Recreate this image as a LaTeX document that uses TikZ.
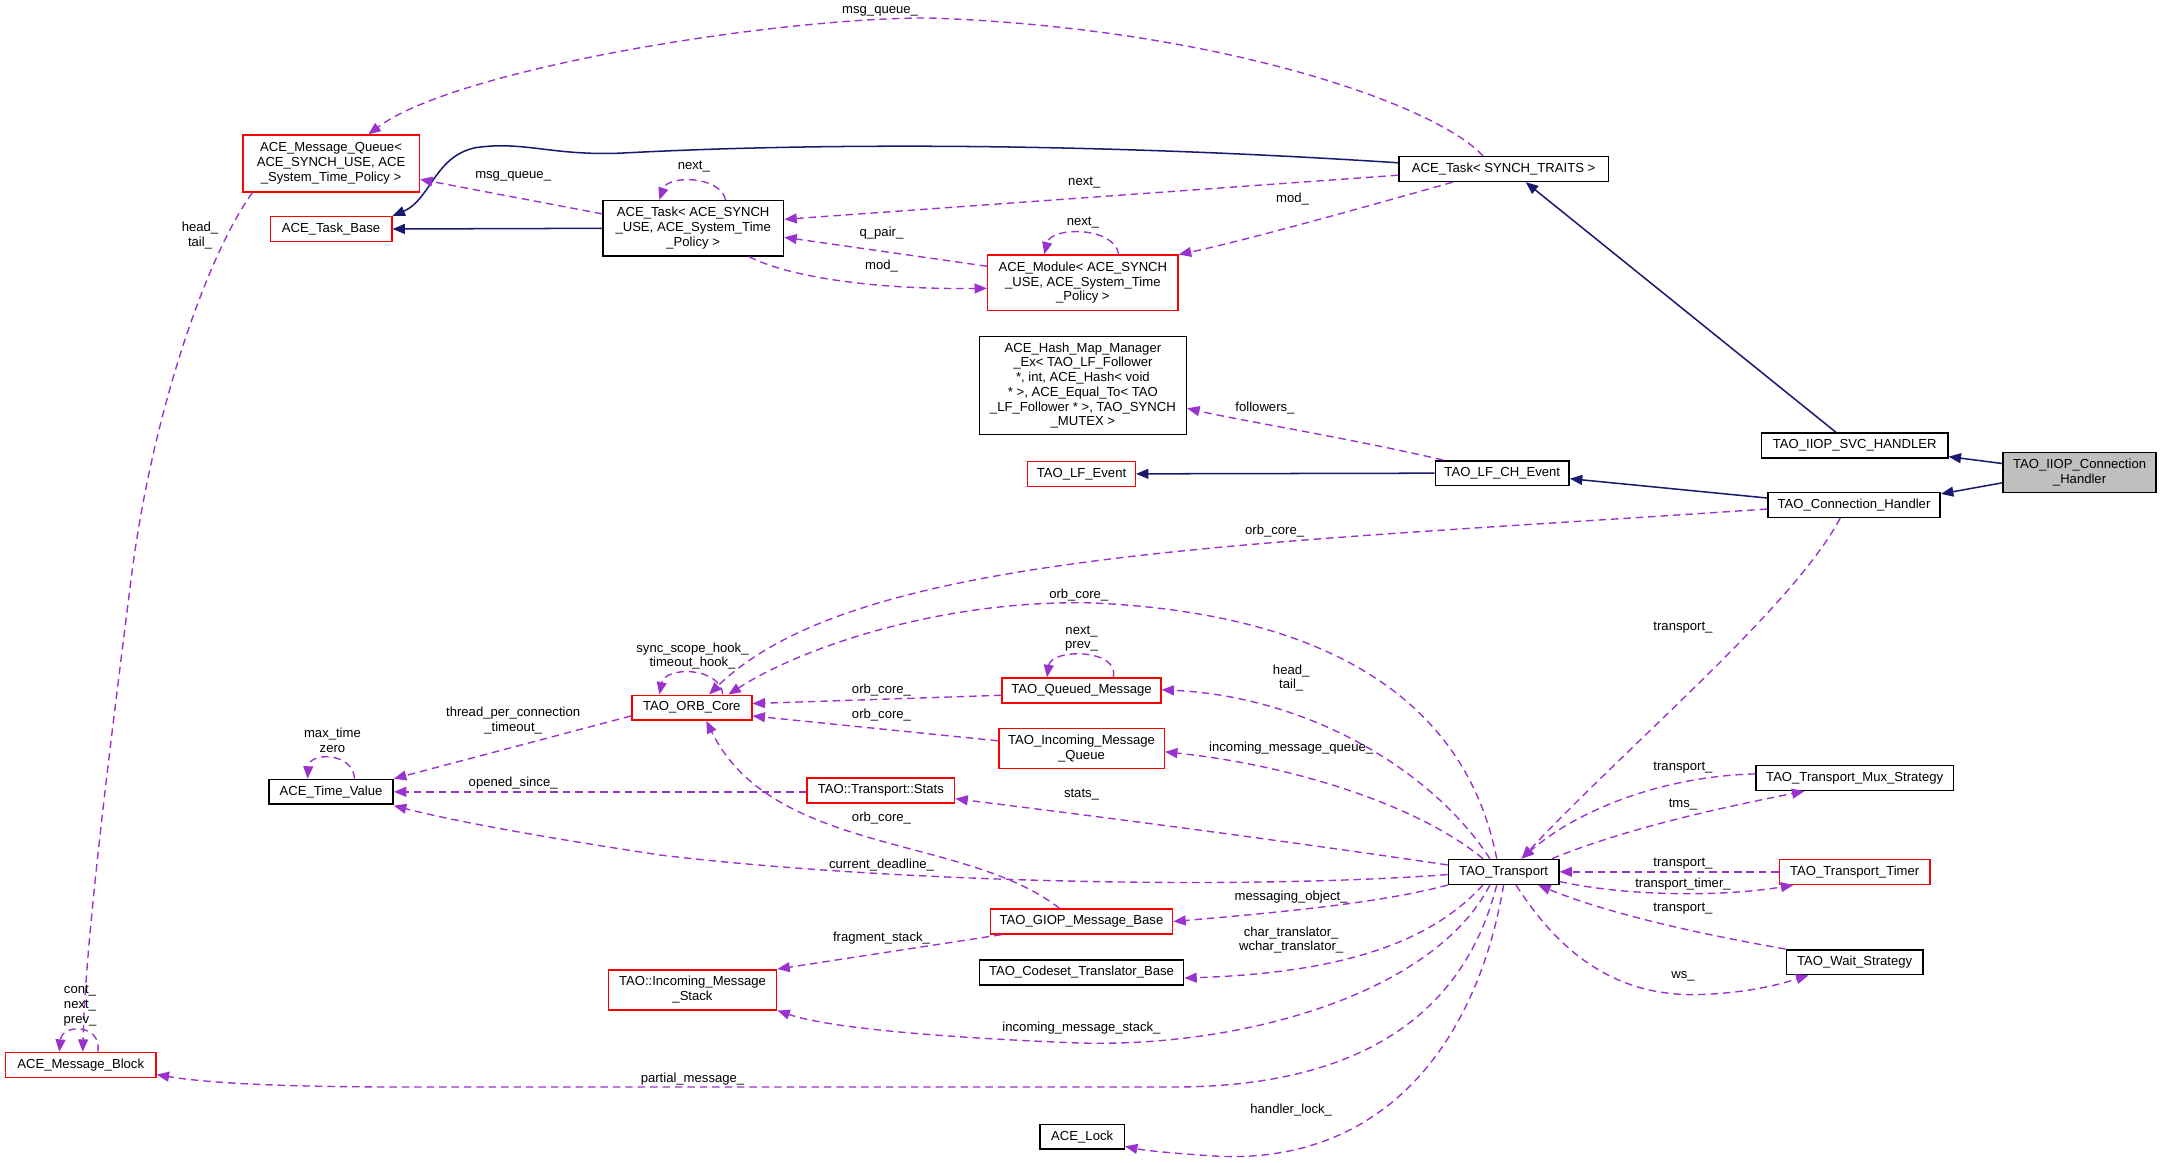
\documentclass[tikz,border=0pt]{standalone}
\usepackage{fontspec}
\setmainfont{Liberation Sans}
\usetikzlibrary{arrows.meta,calc}
\definecolor{depc}{HTML}{9A32CD}
\definecolor{inhc}{HTML}{191970}
\definecolor{grayfill}{HTML}{BFBFBF}
\begin{document}
\begin{tikzpicture}[x=0.5pt,y=-0.5pt,
  txt/.style={font=\fontsize{4.75}{5.35}\selectfont, inner sep=0pt, align=center},
  cls/.style={txt, draw=black, line width=0.55pt, fill=white, minimum height=9pt},
  redcls/.style={cls, draw=red},
  lbl/.style={txt},
  depe/.style={draw=depc, line width=0.5pt, dash pattern=on 2.7pt off 1.8pt, -{Triangle[length=4.5pt,width=3.6pt]}},
  inhe/.style={draw=inhc, line width=0.55pt, -{Triangle[length=4.5pt,width=3.6pt]}}]
\useasboundingbox (0,0) rectangle (1568,843);
% ---- nodes
\node[redcls, minimum width=64pt, minimum height=20.5pt] (mq) at (240,118.5) {ACE\_Message\_Queue<\\ ACE\_SYNCH\_USE, ACE\\\_System\_Time\_Policy >};
\node[redcls, minimum width=44pt] (tb) at (240,166) {ACE\_Task\_Base};
\node[cls, minimum width=65.5pt, minimum height=20pt] (tas) at (502.5,165.5) {ACE\_Task< ACE\_SYNCH\\\_USE, ACE\_System\_Time\\\_Policy >};
\node[cls, minimum width=76pt] (tst) at (1090,122.5) {ACE\_Task< SYNCH\_TRAITS >};
\node[redcls, minimum width=69pt, minimum height=20pt] (mod) at (785,205) {ACE\_Module< ACE\_SYNCH\\\_USE, ACE\_System\_Time\\\_Policy >};
\node[cls, minimum width=75pt, minimum height=35.5pt] (hm) at (785,279.5) {ACE\_Hash\_Map\_Manager\\\_Ex< TAO\_LF\_Follower\\ *, int, ACE\_Hash< void\\ * >, ACE\_Equal\_To< TAO\\\_LF\_Follower * >, TAO\_SYNCH\\\_MUTEX >};
\node[redcls, minimum width=39pt] (lfe) at (784,343.5) {TAO\_LF\_Event};
\node[cls, minimum width=48.5pt] (lfch) at (1089,343) {TAO\_LF\_CH\_Event};
\node[cls, minimum width=67.5pt] (svc) at (1344.5,323) {TAO\_IIOP\_SVC\_HANDLER};
\node[cls, fill=grayfill, minimum width=55.5pt, minimum height=14.5pt] (iiop) at (1507.5,342.5) {TAO\_IIOP\_Connection\\\_Handler};
\node[cls, minimum width=62.5pt] (ch) at (1344,366) {TAO\_Connection\_Handler};
\node[redcls, minimum width=43.5pt] (orb) at (501.5,513) {TAO\_ORB\_Core};
\node[cls, minimum width=45pt] (tv) at (240,574) {ACE\_Time\_Value};
\node[redcls, minimum width=57.5pt] (qm) at (784,500.5) {TAO\_Queued\_Message};
\node[redcls, minimum width=60pt, minimum height=14.5pt] (imq) at (784,542.5) {TAO\_Incoming\_Message\\\_Queue};
\node[redcls, minimum width=53.5pt] (st) at (638.5,573) {TAO::Transport::Stats};
\node[cls, minimum width=40pt] (tr) at (1090,632) {TAO\_Transport};
\node[cls, minimum width=71.5pt] (mux) at (1344.5,564) {TAO\_Transport\_Mux\_Strategy};
\node[redcls, minimum width=54.5pt] (tim) at (1344.5,632) {TAO\_Transport\_Timer};
\node[cls, minimum width=49.5pt] (ws) at (1344.5,697.5) {TAO\_Wait\_Strategy};
\node[redcls, minimum width=66pt] (giop) at (784,668) {TAO\_GIOP\_Message\_Base};
\node[redcls, minimum width=61pt, minimum height=14.5pt] (ims) at (502,717.5) {TAO::Incoming\_Message\\\_Stack};
\node[cls, minimum width=74pt] (cst) at (784,705) {TAO\_Codeset\_Translator\_Base};
\node[redcls, minimum width=54.5pt] (mb) at (58.5,772) {ACE\_Message\_Block};
\node[cls, minimum width=30.5pt] (lock) at (784.5,824) {ACE\_Lock};
% ---- inheritance
\draw[inhe] (tas.west) -- (tb.east);
\draw[inhe] (tst.west |- 0,118) .. controls (800,104) and (600,103) .. (450,111) .. controls (400,113) and (380,102) .. (345,107) .. controls (315,113) and (312,145) .. (tb.north east);
\draw[inhe] (svc.north -| 1331,0) -- (tst.south -| 1106,0);
\draw[inhe] (iiop.west |- 0,336) -- (svc.east |- 0,331);
\draw[inhe] (iiop.west |- 0,350) -- (ch.east |- 0,358);
\draw[inhe] (ch.west |- 0,361) -- (lfch.east |- 0,347);
\draw[inhe] (lfch.west) -- (lfe.east);
% ---- usage
\draw[depe] (tst.north -| 1075,0) .. controls (1040,75) and (880,20) .. (673,13) .. controls (560,13) and (330,50) .. (mq.north -| 267,0);
\node[lbl] (l1) at (638,8) {msg\_queue\_};
\draw[depe] (tas.west |- 0,155) -- (mq.east |- 0,130);
\node[lbl] (l2) at (372,128) {msg\_queue\_};
\draw[depe] (tas.north -| 526,0) .. controls (522,127) and (484,127) .. (tas.north -| 478,0);
\node[lbl] (l3) at (503,121) {next\_};
\draw[depe] (tst.west |- 0,127) -- (tas.east |- 0,159);
\node[lbl] (l4) at (786,132) {next\_};
\draw[depe] (tst.south -| 1053,0) .. controls (990,150) and (900,175) .. (mod.north east);
\node[lbl] (l5) at (937,144) {mod\_};
\draw[depe] (mod.north -| 811,0) .. controls (808,164) and (762,164) .. (mod.north -| 757,0);
\node[lbl] (l6) at (785,161) {next\_};
\draw[depe] (mod.west |- 0,193) -- (tas.east |- 0,172);
\node[lbl] (l7) at (639,169) {q\_pair\_};
\draw[depe] (tas.south -| 543,0) .. controls (570,200) and (630,210) .. (mod.west |- 0,209);
\node[lbl] (l8) at (639,193) {mod\_};
\draw[depe] (lfch.north -| 1046,0) .. controls (980,318) and (900,305) .. (hm.east |- 0,296);
\node[lbl] (l9) at (917,296) {followers\_};
\draw[depe] (ch.west |- 0,369) .. controls (900,395) and (620,400) .. (orb.north -| 514,0);
\node[lbl] (l10) at (924,385) {orb\_core\_};
\draw[depe] (ch.south -| 1334,0) .. controls (1300,440) and (1180,540) .. (tr.north -| 1103,0);
\node[lbl] (l11) at (1220,455) {transport\_};
\draw[depe] (tr.north -| 1085,0) .. controls (1065,520) and (980,445) .. (790,437) .. controls (680,435) and (580,470) .. (orb.north -| 528,0);
\node[lbl] (l12) at (782,431) {orb\_core\_};
\draw[depe] (orb.north -| 524,0) .. controls (522,483) and (482,483) .. (orb.north -| 478,0);
\node[lbl] (l13) at (502,475.5) {sync\_scope\_hook\_\\timeout\_hook\_};
\draw[depe] (orb.west |- 0,519) -- (tv.north east);
\node[lbl] (l14) at (372,522.5) {thread\_per\_connection\\\_timeout\_};
\draw[depe] (tv.north -| 257,0) .. controls (256,545) and (224,545) .. (tv.north -| 223,0);
\node[lbl] (l15) at (241,536.5) {max\_time\\zero};
\draw[depe] (qm.west |- 0,504) -- (orb.east |- 0,510);
\node[lbl] (l16) at (639,500) {orb\_core\_};
\draw[depe] (qm.north -| 807,0) .. controls (812,470) and (762,470) .. (qm.north -| 759,0);
\node[lbl] (l17) at (784,463) {next\_\\prev\_};
\draw[depe] (imq.west |- 0,537) -- (orb.east |- 0,519);
\node[lbl] (l18) at (639,518) {orb\_core\_};
\draw[depe] (giop.north -| 768,0) .. controls (700,605) and (560,620) .. (orb.south -| 512,0);
\node[lbl] (l19) at (639,593) {orb\_core\_};
\draw[depe] (st.west |- 0,574) -- (tv.east |- 0,574);
\node[lbl] (l20) at (372,568) {opened\_since\_};
\draw[depe] (tr.west |- 0,634) .. controls (900,645) and (650,640) .. (480,620) .. controls (380,605) and (320,593) .. (tv.east |- 0,584);
\node[lbl] (l21) at (639,627) {current\_deadline\_};
\draw[depe] (tr.north -| 1080,0) .. controls (1040,560) and (950,505) .. (qm.east |- 0,500);
\node[lbl] (l22) at (936,491.5) {head\_\\tail\_};
\draw[depe] (tr.north -| 1075,0) .. controls (1030,585) and (940,555) .. (imq.east |- 0,545);
\node[lbl] (l23) at (936,542) {incoming\_message\_queue\_};
\draw[depe] (tr.west |- 0,627) .. controls (900,605) and (780,590) .. (st.east |- 0,579);
\node[lbl] (l24) at (784,576) {stats\_};
\draw[depe] (tr.south west) .. controls (1000,655) and (920,662) .. (giop.east |- 0,668);
\node[lbl] (l25) at (936,650) {messaging\_object\_};
\draw[depe] (tr.south -| 1075,0) .. controls (1040,680) and (980,705) .. (cst.east |- 0,709);
\node[lbl] (l26) at (936,681.5) {char\_translator\_\\wchar\_translator\_};
\draw[depe] (tr.south -| 1080,0) .. controls (1040,720) and (900,760) .. (780,756) .. controls (680,752) and (600,745) .. (ims.south east);
\node[lbl] (l27) at (784,745) {incoming\_message\_stack\_};
\draw[depe] (giop.south -| 726,0) -- (ims.north east);
\node[lbl] (l28) at (639,680) {fragment\_stack\_};
\draw[depe] (tr.south -| 1085,0) .. controls (1060,740) and (980,788) .. (850,788) -- (300,788) .. controls (200,788) and (150,785) .. (mb.east |- 0,779);
\node[lbl] (l29) at (502,782) {partial\_message\_};
\draw[depe] (tr.south -| 1090,0) .. controls (1070,760) and (1000,845) .. (880,838) .. controls (850,836) and (830,834) .. (lock.east |- 0,831);
\node[lbl] (l30) at (936,805) {handler\_lock\_};
\draw[depe] (mq.south -| 183,0) .. controls (150,185) and (110,300) .. (95,420) .. controls (80,540) and (62,680) .. (mb.north -| 60,0);
\node[lbl] (l31) at (145,171) {head\_\\tail\_};
\draw[depe] (mb.north -| 71,0) .. controls (74,742) and (45,742) .. (mb.north -| 43,0);
\node[lbl] (l32) at (58,729) {cont\_\\next\_\\prev\_};
\draw[depe] (mux.west |- 0,561) .. controls (1200,563) and (1140,590) .. (tr.north -| 1103,0);
\node[lbl] (l33) at (1220,556.5) {transport\_};
\draw[depe] (tr.north -| 1125,0) .. controls (1180,600) and (1250,585) .. (mux.south -| 1308,0);
\node[lbl] (l34) at (1220,583) {tms\_};
\draw[depe] (tim.west) -- (tr.east);
\node[lbl] (l35) at (1220,626) {transport\_};
\draw[depe] (tr.east |- 0,639) .. controls (1180,650) and (1250,650) .. (tim.south -| 1300,0);
\node[lbl] (l36) at (1220,641) {transport\_timer\_};
\draw[depe] (ws.north west) .. controls (1220,675) and (1160,660) .. (tr.south -| 1115,0);
\node[lbl] (l37) at (1220,659) {transport\_};
\draw[depe] (tr.south -| 1099,0) .. controls (1130,690) and (1170,722) .. (1230,721) .. controls (1270,720) and (1295,712) .. (ws.south -| 1311,0);
\node[lbl] (l38) at (1220,707.5) {ws\_};
\end{tikzpicture}
\end{document}
